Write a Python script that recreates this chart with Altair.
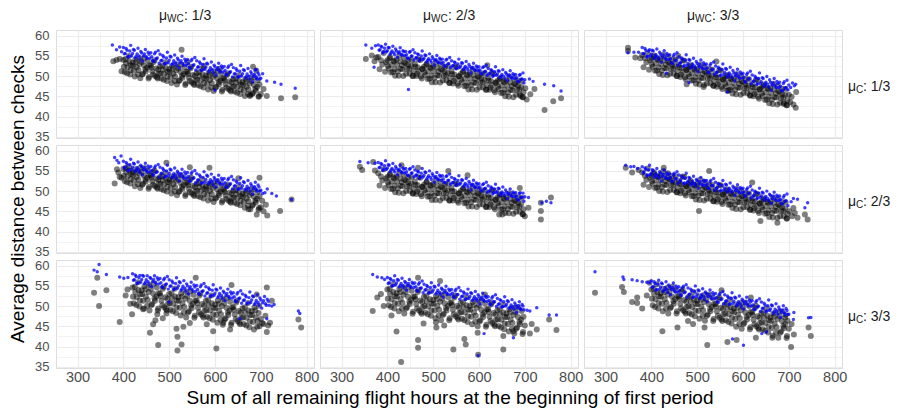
import altair as alt
import pandas as pd

LEVELS = ["1/3", "2/3", "3/3"]
X_TITLE = "Sum of all remaining flight hours at the beginning of first period"
Y_TITLE = "Average distance between checks"
X_TICKS = [300, 350, 400, 450, 500, 550, 600, 650, 700, 750, 800]
Y_TICKS = [35, 37.5, 40, 42.5, 45, 47.5, 50, 52.5, 55, 57.5, 60]

# ---------------- row mu_C = 1/3 ----------------
R1C1_BLUE = [(376,57.7),(385,56.5),(392,57.2),(396,56.0),
(400,57.1),(404,55.6),(408,56.4),(412,54.9),(416,57.6),(420,55.6),(424,56.4),(428,54.9),(432,56.9),(436,54.3),
(440,55.7),(444,55.0),(448,56.6),(452,54.4),(456,55.4),(460,55.8),(464,53.8),(468,55.5),(472,54.3),(476,56.3),
(480,55.4),(484,53.9),(488,54.7),(492,53.2),(496,55.9),(500,53.9),(504,54.7),(508,53.2),(512,55.2),(516,52.6),
(520,54.0),(524,53.3),(528,54.9),(532,52.7),(536,53.7),(540,54.1),(544,52.1),(548,53.8),(552,52.6),(556,54.6),
(560,53.8),(564,52.3),(568,53.1),(572,51.6),(576,54.3),(580,52.2),(584,53.0),(588,51.5),(592,53.5),(596,50.9),
(600,52.3),(604,51.6),(608,53.2),(612,51.0),(616,52.0),(620,52.4),(624,50.4),(628,52.1),(632,50.9),(636,52.9),
(640,52.1),(644,50.6),(648,51.4),(652,49.9),(656,52.6),(660,50.6),(664,51.4),(668,49.9),(672,51.9),(676,49.3),
(680,50.6),(684,49.9),(688,51.5),(692,49.3),(696,50.3),(690,51.6),(700,49.5),(704,50.6),(600,46.5),
(713,48.8),(730,48.5),(744,48.0),(775,47.0)]
R1C1_BLUE2 = [(402,55.5),(406,56.8),(410,54.7),(414,56.2),(418,55.0),(422,56.6),(426,54.5),(430,55.5),(434,55.0),(438,56.1),
(442,53.7),(446,55.5),(450,54.8),(454,55.9),(458,54.4),(462,54.8),(466,53.6),(470,55.9),(474,54.5),(478,53.2),
(482,53.8),(486,55.1),(490,53.0),(494,54.5),(498,53.3),(502,54.9),(506,52.8),(510,53.8),(514,53.3),(518,54.4),
(522,52.0),(526,53.8),(530,53.1),(534,54.2),(538,52.7),(542,53.1),(546,51.9),(550,54.2),(554,52.8),(558,51.5),
(562,52.2),(566,53.5),(570,51.4),(574,52.9),(578,51.7),(582,53.2),(586,51.1),(590,52.1),(594,51.6),(598,52.7),
(602,50.3),(606,52.1),(610,51.4),(614,52.5),(618,51.0),(622,51.4),(626,50.2),(630,52.5),(634,51.1),(638,49.8),
(642,50.5),(646,51.8),(650,49.7),(654,51.2),(658,50.0),(662,51.6),(666,49.5),(670,50.5),(674,50.0),(678,51.1),
(682,48.6),(686,50.4),(690,49.7),(694,50.8),(698,49.3)]
R1C1_BLACK = [(378,53.7),(385,54.0),(392,54.2),(396,51.2),
(400,54.0),(403,51.0),(406,53.2),(409,52.2),(412,55.0),(415,50.4),(417,52.7),
(420,53.3),(423,51.3),(426,54.1),(429,52.2),(432,50.4),(435,53.0),(437,49.5),
(440,53.5),(443,50.6),(446,54.5),(449,51.2),(452,52.1),(455,49.4),(457,52.7),
(460,52.6),(463,51.2),(466,53.5),(469,50.0),(472,51.9),(475,49.4),(477,50.6),
(480,52.4),(483,49.4),(486,51.6),(489,50.6),(492,53.4),(495,48.8),(497,51.1),
(500,51.7),(503,49.7),(506,52.5),(509,50.6),(512,48.8),(515,51.4),(517,47.9),
(520,51.9),(523,49.0),(526,52.9),(529,49.6),(532,50.5),(535,47.8),(537,51.1),
(540,51.0),(543,49.6),(546,51.9),(549,48.4),(552,50.3),(555,47.8),(557,49.0),
(560,50.8),(563,47.8),(566,50.0),(569,49.0),(572,51.8),(575,47.2),(577,49.5),
(580,50.1),(583,48.1),(586,50.9),(589,49.0),(592,47.2),(595,49.8),(597,46.3),
(600,50.3),(603,47.4),(606,51.3),(609,48.0),(612,48.9),(615,46.2),(617,49.5),
(620,49.4),(623,48.0),(626,50.3),(629,46.8),(632,48.7),(635,46.2),(637,47.4),
(640,49.2),(643,46.2),(646,48.4),(649,47.4),(652,50.2),(655,45.6),(657,47.9),
(660,48.5),(663,46.5),(666,49.3),(669,47.4),(672,45.6),(675,48.2),(677,45.3),
(680,48.7),(683,45.8),(686,49.7),(689,46.4),(692,47.3),(695,44.9),(697,47.9),
(527,56.5),(540,53.5),(575,52.5),(610,51.8),(683,52.3),(690,51.4),(676,45.1),
(700,45.6),(706,46.8),(713,45.1),(744,44.5),(775,44.8)]
R1C1_BLACK2 = [(401,52.3),(405,54.2),(408,50.7),(413,53.6),(416,51.5),(421,52.6),(425,49.9),(428,53.5),(433,51.5),(436,54.4),
(441,50.4),(445,52.6),(448,51.7),(453,53.8),(456,49.8),(461,52.1),(465,50.4),(468,53.9),(473,49.7),(476,51.6),
(481,50.7),(485,52.6),(488,49.1),(493,52.0),(496,49.9),(501,51.0),(505,48.3),(508,51.9),(513,49.9),(516,52.8),
(521,48.8),(525,51.0),(528,50.1),(533,52.2),(536,48.2),(541,50.5),(545,48.8),(548,52.3),(553,48.1),(556,50.0),
(561,49.1),(565,51.0),(568,47.5),(573,50.4),(576,48.3),(581,49.4),(585,46.7),(588,50.3),(593,48.3),(596,51.2),
(601,47.2),(605,49.4),(608,48.5),(613,50.6),(616,46.6),(621,48.9),(625,47.2),(628,50.7),(633,46.5),(636,48.4),
(641,47.5),(645,49.4),(648,45.9),(653,48.8),(656,46.7),(661,47.8),(665,45.1),(668,48.7),(673,46.7),(676,49.6),
(681,45.6),(685,47.8),(688,46.9),(693,49.0),(696,45.0)]

R1C2_BLUE = [(353,57.7),(366,56.9),(371,52.2),(374,57.5),
(380,57.7),(384,56.5),(388,57.2),(392,56.0),(396,57.9),(400,56.3),(404,57.0),(408,55.8),(412,57.4),(416,55.3),
(420,56.2),(424,55.7),(428,57.0),(432,55.2),(436,56.0),(440,56.1),(444,54.5),(448,55.9),(452,54.9),(456,56.5),
(460,55.8),(464,54.6),(468,55.3),(472,54.1),(476,56.2),(480,54.4),(484,55.1),(488,53.9),(492,55.5),(496,53.4),
(500,54.3),(504,53.8),(508,55.1),(512,53.3),(516,54.1),(520,54.2),(524,52.6),(528,54.0),(532,53.0),(536,54.6),
(540,53.8),(544,52.6),(548,53.3),(552,52.1),(556,54.2),(560,52.5),(564,53.2),(568,52.0),(572,53.6),(576,51.5),
(580,52.4),(584,51.9),(588,53.2),(592,51.4),(596,52.2),(600,52.3),(604,50.7),(608,52.1),(612,51.1),(616,52.7),
(620,51.9),(624,50.7),(628,51.4),(632,50.2),(636,52.3),(640,50.5),(644,51.2),(648,50.0),(652,51.6),(656,49.5),
(660,50.5),(664,50.0),(668,51.3),(672,49.5),(676,50.3),(680,50.4),(684,48.8),(688,50.2),(692,49.2),(696,50.8),
(446,46.7),(700,49.1),(710,49.3),(718,48.7),(743,48.0),(763,47.6),(779,46.3)]
R1C2_BLUE2 = [(382,56.4),(386,57.4),(390,55.7),(394,56.9),(398,56.0),(402,57.1),(406,55.4),(410,56.2),(414,55.8),(418,56.7),
(422,54.6),(426,56.0),(430,55.4),(434,56.3),(438,55.1),(442,55.3),(446,54.3),(450,56.1),(454,55.0),(458,54.0),
(462,54.5),(466,55.5),(470,53.8),(474,55.0),(478,54.1),(482,55.2),(486,53.5),(490,54.3),(494,53.9),(498,54.8),
(502,52.7),(506,54.1),(510,53.5),(514,54.4),(518,53.2),(522,53.4),(526,52.4),(530,54.2),(534,53.1),(538,52.1),
(542,52.5),(546,53.5),(550,51.8),(554,53.0),(558,52.1),(562,53.3),(566,51.6),(570,52.4),(574,52.0),(578,52.9),
(582,50.8),(586,52.2),(590,51.6),(594,52.5),(598,51.3),(602,51.5),(606,50.5),(610,52.3),(614,51.2),(618,50.2),
(622,50.6),(626,51.6),(630,49.9),(634,51.1),(638,50.2),(642,51.3),(646,49.6),(650,50.4),(654,50.0),(658,50.9),
(662,48.9),(666,50.3),(670,49.7),(674,50.6),(678,49.4),(682,49.6),(686,48.6),(690,50.4),(694,49.3),(698,48.3)]
R1C2_BLACK = [(353,54.2),(366,55.1),(372,53.7),(376,54.6),
(380,54.7),(383,51.7),(386,53.9),(389,52.9),(392,55.7),(395,51.1),(397,53.4),
(400,53.9),(403,51.9),(406,54.7),(409,52.8),(412,51.0),(415,53.6),(417,50.1),
(420,54.1),(423,51.2),(426,55.1),(429,51.8),(432,52.7),(435,50.0),(437,53.3),
(440,53.2),(443,51.8),(446,54.1),(449,50.6),(452,52.5),(455,50.0),(457,51.2),
(460,53.0),(463,50.0),(466,52.2),(469,51.2),(472,54.0),(475,49.4),(477,51.7),
(480,52.3),(483,50.3),(486,53.1),(489,51.2),(492,49.4),(495,52.0),(497,48.5),
(500,52.5),(503,49.6),(506,53.5),(509,50.2),(512,51.1),(515,48.4),(517,51.7),
(520,51.5),(523,50.1),(526,52.4),(529,48.9),(532,50.8),(535,48.3),(537,49.5),
(540,51.2),(543,48.2),(546,50.4),(549,49.4),(552,52.2),(555,47.6),(557,49.9),
(560,50.5),(563,48.5),(566,51.3),(569,49.4),(572,47.6),(575,50.2),(577,46.7),
(580,50.7),(583,47.8),(586,51.7),(589,48.4),(592,49.3),(595,46.6),(597,49.9),
(600,49.8),(603,48.4),(606,50.7),(609,47.2),(612,49.1),(615,46.6),(617,47.8),
(620,49.6),(623,46.6),(626,48.8),(629,47.8),(632,50.6),(635,46.0),(637,48.3),
(640,48.8),(643,46.8),(646,49.6),(649,47.7),(652,45.9),(655,48.5),(657,45.0),
(660,48.9),(663,46.0),(666,49.9),(669,46.6),(672,47.5),(675,44.8),(677,48.1),
(680,48.0),(683,46.6),(686,48.9),(689,45.4),(692,47.3),(695,44.8),(697,46.0),
(618,52.7),(691,45.1),(701,47.0),(704,44.2),(712,45.5),(721,46.8),(743,41.6),(762,43.8),(779,44.5)]
R1C2_BLACK2 = [(401,52.5),(405,54.4),(408,50.9),(413,53.8),(416,51.7),(421,52.8),(425,50.1),(428,53.7),(433,51.7),(436,54.6),
(441,50.6),(445,52.8),(448,51.9),(453,54.0),(456,50.0),(461,52.3),(465,50.6),(468,54.1),(473,49.9),(476,51.8),
(481,50.9),(485,52.8),(488,49.3),(493,52.2),(496,50.1),(501,51.2),(505,48.5),(508,52.1),(513,50.1),(516,53.0),
(521,48.9),(525,51.1),(528,50.2),(533,52.3),(536,48.3),(541,50.5),(545,48.8),(548,52.3),(553,48.1),(556,50.0),
(561,49.1),(565,51.0),(568,47.5),(573,50.4),(576,48.3),(581,49.4),(585,46.7),(588,50.3),(593,48.3),(596,51.2),
(601,47.2),(605,49.4),(608,48.5),(613,50.6),(616,46.6),(621,48.9),(625,47.2),(628,50.7),(633,46.5),(636,48.4),
(641,47.4),(645,49.3),(648,45.8),(653,48.7),(656,46.6),(661,47.6),(665,44.9),(668,48.5),(673,46.5),(676,49.4),
(681,45.4),(685,47.6),(688,46.7),(693,48.8),(696,44.8)]

R1C3_BLUE = [(349,55.8),(362,55.9),(372,55.9),
(380,57.1),(384,55.6),(388,56.4),(392,54.9),(396,56.5),(400,55.4),(404,56.2),(408,54.7),(412,56.7),(416,54.1),
(420,55.4),(424,54.7),(428,56.3),(432,54.1),(436,55.1),(440,55.3),(444,53.3),(448,55.0),(452,53.8),(456,55.8),
(460,54.8),(464,53.3),(468,54.1),(472,52.6),(476,55.3),(480,53.1),(484,53.9),(488,52.4),(492,54.4),(496,51.8),
(500,53.1),(504,52.4),(508,54.0),(512,51.8),(516,52.8),(520,53.0),(524,51.0),(528,52.7),(532,51.5),(536,53.5),
(540,52.5),(544,51.0),(548,51.8),(552,50.3),(556,53.0),(560,50.9),(564,51.7),(568,50.2),(572,52.2),(576,49.6),
(580,50.8),(584,50.1),(588,51.7),(592,49.5),(596,50.5),(600,50.7),(604,48.7),(608,50.4),(612,49.2),(616,51.2),
(620,50.3),(624,48.8),(628,49.6),(632,48.1),(636,50.8),(640,48.6),(644,49.4),(648,47.9),(652,49.9),(656,47.3),
(660,48.5),(664,47.8),(668,49.4),(672,47.2),(676,48.2),(680,48.5),(684,46.5),(688,48.2),(692,47.0),(696,49.0),
(700,47.8),(704,47.2),(708,48.3),(712,47.6),(715,48.0),(433,50.7),(482,48.4),(566,46.1)]
R1C3_BLUE2 = [(382,55.5),(386,56.8),(390,54.7),(394,56.2),(398,55.0),(402,56.4),(406,54.3),(410,55.3),(414,54.8),(418,55.9),
(422,53.4),(426,55.2),(430,54.5),(434,55.6),(438,54.1),(442,54.3),(446,53.1),(450,55.4),(454,54.0),(458,52.7),
(462,53.2),(466,54.5),(470,52.4),(474,53.9),(478,52.7),(482,54.1),(486,52.0),(490,53.0),(494,52.5),(498,53.6),
(502,51.1),(506,52.9),(510,52.2),(514,53.3),(518,51.8),(522,52.0),(526,50.8),(530,53.1),(534,51.7),(538,50.4),
(542,50.9),(546,52.2),(550,50.1),(554,51.6),(558,50.4),(562,51.9),(566,49.8),(570,50.8),(574,50.3),(578,51.4),
(582,48.8),(586,50.6),(590,49.9),(594,51.0),(598,49.5),(602,49.7),(606,48.5),(610,50.8),(614,49.4),(618,48.1),
(622,48.7),(626,50.0),(630,47.9),(634,49.4),(638,48.2),(642,49.6),(646,47.5),(650,48.5),(654,48.0),(658,49.1),
(662,46.5),(666,48.3),(670,47.6),(674,48.7),(678,47.2),(682,47.5),(686,46.3),(690,48.6),(694,47.2),(698,46.6)]
R1C3_BLACK = [(349,57.0),(349,56.2),(365,54.6),(376,54.4),
(380,55.2),(383,52.2),(386,54.4),(389,53.4),(392,55.6),(395,51.6),(397,53.9),
(400,54.3),(403,52.3),(406,55.1),(409,53.2),(412,51.4),(415,54.0),(417,50.5),
(420,54.3),(423,51.4),(426,55.3),(429,52.0),(432,52.9),(435,50.2),(437,53.5),
(440,53.2),(443,51.8),(446,54.1),(449,50.6),(452,52.5),(455,50.0),(457,51.2),
(460,52.8),(463,49.8),(466,52.0),(469,51.0),(472,53.8),(475,49.2),(477,51.5),
(480,51.9),(483,49.9),(486,52.7),(489,50.8),(492,49.0),(495,51.6),(497,48.1),
(500,51.9),(503,49.0),(506,52.9),(509,49.6),(512,50.5),(515,47.8),(517,51.1),
(520,50.8),(523,49.4),(526,51.7),(529,48.2),(532,50.1),(535,47.6),(537,48.8),
(540,50.4),(543,47.4),(546,49.6),(549,48.6),(552,51.4),(555,46.8),(557,49.1),
(560,49.5),(563,47.5),(566,50.3),(569,48.4),(572,46.6),(575,49.2),(577,45.7),
(580,49.5),(583,46.6),(586,50.5),(589,47.2),(592,48.1),(595,45.4),(597,48.7),
(600,48.4),(603,47.0),(606,49.3),(609,45.8),(612,47.7),(615,45.2),(617,46.4),
(620,48.0),(623,45.0),(626,47.2),(629,46.2),(632,49.0),(635,44.4),(637,46.7),
(640,47.1),(643,45.1),(646,47.9),(649,46.0),(652,44.2),(655,46.8),(657,43.3),
(660,47.1),(663,44.2),(666,48.1),(669,44.8),(672,45.7),(675,43.0),(677,46.3),
(680,46.0),(683,44.6),(686,46.9),(689,43.4),(692,45.3),(695,42.8),(697,44.0),
(700,45.4),(703,43.6),(706,44.9),(710,43.0),(715,42.2),(716,46.1),
(459,55.0),(542,53.6),(477,48.0),(514,47.3),(566,46.3),(689,43.1)]
R1C3_BLACK2 = [(401,52.9),(405,54.8),(408,51.3),(413,54.2),(416,52.1),(421,53.0),(425,50.3),(428,53.9),(433,51.9),(436,54.8),
(441,50.6),(445,52.8),(448,51.9),(453,54.0),(456,50.0),(461,52.1),(465,50.4),(468,53.9),(473,49.7),(476,51.6),
(481,50.5),(485,52.4),(488,48.9),(493,51.8),(496,49.7),(501,50.6),(505,47.9),(508,51.5),(513,49.5),(516,52.4),
(521,48.2),(525,50.4),(528,49.5),(533,51.6),(536,47.6),(541,49.7),(545,48.0),(548,51.5),(553,47.3),(556,49.2),
(561,48.1),(565,50.0),(568,46.5),(573,49.4),(576,47.3),(581,48.2),(585,45.5),(588,49.1),(593,47.1),(596,50.0),
(601,45.8),(605,48.0),(608,47.1),(613,49.2),(616,45.2),(621,47.3),(625,45.6),(628,49.1),(633,44.9),(636,46.8),
(641,45.7),(645,47.6),(648,44.1),(653,47.0),(656,44.9),(661,45.8),(665,43.1),(668,46.7),(673,44.7),(676,47.6),
(681,43.4),(685,45.6),(688,44.7),(693,46.8),(696,42.8)]

# ---------------- row mu_C = 2/3 ----------------
R2C1_BLUE = [(381,58.3),(386,57.6),(390,57.0),(395,58.7),
(400,57.4),(404,55.9),(408,56.7),(412,55.2),(416,57.9),(420,55.9),(424,56.7),(428,55.2),(432,57.2),(436,54.6),
(440,56.0),(444,55.3),(448,56.9),(452,54.7),(456,55.7),(460,56.1),(464,54.1),(468,55.8),(472,54.6),(476,56.6),
(480,55.9),(484,54.4),(488,55.2),(492,53.7),(496,56.4),(500,54.4),(504,55.2),(508,53.7),(512,55.7),(516,53.1),
(520,54.5),(524,53.8),(528,55.4),(532,53.2),(536,54.2),(540,54.6),(544,52.6),(548,54.3),(552,53.1),(556,55.1),
(560,54.3),(564,52.8),(568,53.6),(572,52.1),(576,54.8),(580,52.9),(584,53.7),(588,52.2),(592,54.2),(596,51.6),
(600,53.0),(604,52.3),(608,53.9),(612,51.7),(616,52.7),(620,53.1),(624,51.1),(628,52.8),(632,51.6),(636,53.6),
(640,52.8),(644,51.3),(648,52.1),(652,50.6),(656,53.3),(660,51.3),(664,52.1),(668,50.6),(672,52.6),(676,50.0),
(680,51.3),(684,50.6),(688,52.2),(692,50.0),(696,51.0),(700,50.2),(704,49.4),(709,49.6),(714,50.5),
(724,49.4),(734,48.8),(767,47.9)]
R2C1_BLUE2 = [(402,55.8),(406,57.1),(410,55.0),(414,56.5),(418,55.3),(422,56.9),(426,54.8),(430,55.8),(434,55.3),(438,56.4),
(442,54.0),(446,55.8),(450,55.1),(454,56.2),(458,54.7),(462,55.1),(466,53.9),(470,56.2),(474,54.8),(478,53.5),
(482,54.3),(486,55.6),(490,53.5),(494,55.0),(498,53.8),(502,55.4),(506,53.3),(510,54.3),(514,53.8),(518,54.9),
(522,52.5),(526,54.3),(530,53.6),(534,54.7),(538,53.2),(542,53.6),(546,52.4),(550,54.7),(554,53.3),(558,52.0),
(562,52.7),(566,54.0),(570,51.9),(574,53.4),(578,52.2),(582,53.9),(586,51.8),(590,52.8),(594,52.3),(598,53.4),
(602,51.0),(606,52.8),(610,52.1),(614,53.2),(618,51.7),(622,52.1),(626,50.9),(630,53.2),(634,51.8),(638,50.5),
(642,51.2),(646,52.5),(650,50.4),(654,51.9),(658,50.7),(662,52.3),(666,50.2),(670,51.2),(674,50.7),(678,51.8),
(682,49.3),(686,51.1),(690,50.4),(694,51.5),(698,50.0)]
R2C1_BLACK = [(381,51.9),(386,55.4),(389,54.6),(392,53.5),(396,53.3),
(400,55.5),(403,52.5),(406,54.7),(409,53.7),(412,56.0),(415,51.9),(417,54.2),
(420,54.6),(423,52.6),(426,55.4),(429,53.5),(432,51.7),(435,54.3),(437,50.8),
(440,54.7),(443,51.8),(446,55.7),(449,52.4),(452,53.3),(455,50.6),(457,53.9),
(460,53.8),(463,52.4),(466,54.7),(469,51.2),(472,53.1),(475,50.6),(477,51.8),
(480,53.5),(483,50.5),(486,52.7),(489,51.7),(492,54.5),(495,49.9),(497,52.2),
(500,52.8),(503,50.8),(506,53.6),(509,51.7),(512,49.9),(515,52.5),(517,49.0),
(520,52.9),(523,50.0),(526,53.9),(529,50.6),(532,51.5),(535,48.8),(537,52.1),
(540,52.0),(543,50.6),(546,52.9),(549,49.4),(552,51.3),(555,48.8),(557,50.0),
(560,51.8),(563,48.8),(566,51.0),(569,50.0),(572,52.8),(575,48.2),(577,50.5),
(580,51.1),(583,49.1),(586,51.9),(589,50.0),(592,48.2),(595,50.8),(597,47.3),
(600,51.3),(603,48.4),(606,52.3),(609,49.0),(612,49.9),(615,47.2),(617,50.5),
(620,50.3),(623,48.9),(626,51.2),(629,47.7),(632,49.6),(635,47.1),(637,48.3),
(640,50.1),(643,47.1),(646,49.3),(649,48.3),(652,51.1),(655,46.5),(657,48.8),
(660,49.3),(663,47.3),(666,50.1),(669,48.2),(672,46.4),(675,49.0),(677,45.5),
(680,49.5),(683,46.6),(686,50.5),(689,47.2),(692,48.1),(695,45.4),(697,48.7),
(700,46.0),(703,47.6),(706,45.0),(711,46.6),
(494,57.0),(545,55.9),(588,55.8),(651,53.2),(697,53.3),(673,45.5),(691,44.2),(714,44.0),(742,45.1),(767,47.9)]
R2C1_BLACK2 = [(401,53.8),(405,55.7),(408,52.2),(413,55.1),(416,53.0),(421,53.9),(425,51.2),(428,54.8),(433,52.8),(436,55.7),
(441,51.6),(445,53.8),(448,52.9),(453,55.0),(456,51.0),(461,53.3),(465,51.6),(468,55.1),(473,50.9),(476,52.8),
(481,51.8),(485,53.7),(488,50.2),(493,53.1),(496,51.0),(501,52.1),(505,49.4),(508,53.0),(513,51.0),(516,53.9),
(521,49.8),(525,52.0),(528,51.1),(533,53.2),(536,49.2),(541,51.5),(545,49.8),(548,53.3),(553,49.1),(556,51.0),
(561,50.1),(565,52.0),(568,48.5),(573,51.4),(576,49.3),(581,50.4),(585,47.7),(588,51.3),(593,49.3),(596,52.2),
(601,48.2),(605,50.4),(608,49.5),(613,51.6),(616,47.6),(621,49.8),(625,48.1),(628,51.6),(633,47.4),(636,49.3),
(641,48.4),(645,50.3),(648,46.8),(653,49.7),(656,47.6),(661,48.6),(665,45.9),(668,49.5),(673,47.5),(676,50.4),
(681,46.4),(685,48.6),(688,47.7),(693,49.8),(696,45.8)]

R2C2_BLUE = [(340,57.3),(358,57.0),(373,56.9),
(380,57.1),(384,55.9),(388,56.6),(392,55.4),(396,57.5),(400,55.7),(404,56.4),(408,55.2),(412,56.8),(416,54.7),
(420,55.6),(424,55.1),(428,56.4),(432,54.6),(436,55.4),(440,55.6),(444,54.0),(448,55.4),(452,54.4),(456,56.0),
(460,55.2),(464,54.0),(468,54.7),(472,53.5),(476,55.6),(480,53.9),(484,54.6),(488,53.4),(492,55.0),(496,52.9),
(500,53.8),(504,53.3),(508,54.6),(512,52.8),(516,53.6),(520,53.8),(524,52.2),(528,53.6),(532,52.6),(536,54.2),
(540,53.4),(544,52.2),(548,52.9),(552,51.7),(556,53.8),(560,52.0),(564,52.7),(568,51.5),(572,53.1),(576,51.0),
(580,51.9),(584,51.4),(588,52.7),(592,50.9),(596,51.7),(600,51.8),(604,50.2),(608,51.6),(612,50.6),(616,52.2),
(620,51.3),(624,50.1),(628,50.8),(632,49.6),(636,51.7),(640,49.9),(644,50.6),(648,49.4),(652,51.0),(656,48.9),
(660,49.7),(664,49.2),(668,50.5),(672,48.7),(676,49.5),(680,49.6),(684,48.0),(688,49.4),(692,48.4),(696,49.5),
(700,48.6),(708,48.4),(737,47.1),(747,47.5),(757,47.1)]
R2C2_BLUE2 = [(382,55.8),(386,56.8),(390,55.1),(394,56.3),(398,55.4),(402,56.5),(406,54.8),(410,55.6),(414,55.2),(418,56.1),
(422,54.0),(426,55.4),(430,54.8),(434,55.7),(438,54.5),(442,54.8),(446,53.8),(450,55.6),(454,54.5),(458,53.5),
(462,53.9),(466,54.9),(470,53.2),(474,54.4),(478,53.5),(482,54.7),(486,53.0),(490,53.8),(494,53.4),(498,54.3),
(502,52.2),(506,53.6),(510,53.0),(514,53.9),(518,52.7),(522,53.0),(526,52.0),(530,53.8),(534,52.7),(538,51.7),
(542,52.1),(546,53.1),(550,51.4),(554,52.6),(558,51.7),(562,52.8),(566,51.1),(570,51.9),(574,51.5),(578,52.4),
(582,50.3),(586,51.7),(590,51.1),(594,52.0),(598,50.8),(602,51.0),(606,50.0),(610,51.8),(614,50.7),(618,49.7),
(622,50.0),(626,51.0),(630,49.3),(634,50.5),(638,49.6),(642,50.7),(646,49.0),(650,49.8),(654,49.4),(658,50.3),
(662,48.1),(666,49.5),(670,48.9),(674,49.8),(678,48.6),(682,48.8),(686,47.8),(690,49.6),(694,48.5),(698,47.5)]
R2C2_BLACK = [(340,56.0),(345,55.2),(369,57.2),(373,55.1),
(380,54.4),(383,51.4),(386,53.6),(389,52.6),(392,55.4),(395,50.8),(397,53.1),
(400,53.5),(403,51.5),(406,54.3),(409,52.4),(412,50.6),(415,53.2),(417,49.7),
(420,53.6),(423,50.7),(426,54.6),(429,51.3),(432,52.2),(435,49.5),(437,52.8),
(440,52.6),(443,51.2),(446,53.5),(449,50.0),(452,51.9),(455,49.4),(457,50.6),
(460,52.3),(463,49.3),(466,51.5),(469,50.5),(472,53.3),(475,48.7),(477,51.0),
(480,51.6),(483,49.6),(486,52.4),(489,50.5),(492,48.7),(495,51.3),(497,47.8),
(500,51.8),(503,48.9),(506,52.8),(509,49.5),(512,50.4),(515,47.7),(517,51.0),
(520,50.9),(523,49.5),(526,51.8),(529,48.3),(532,50.2),(535,47.7),(537,48.9),
(540,50.7),(543,47.7),(546,49.9),(549,48.9),(552,51.7),(555,47.1),(557,49.4),
(560,50.0),(563,48.0),(566,50.8),(569,48.9),(572,47.1),(575,49.7),(577,46.2),
(580,50.2),(583,47.3),(586,51.2),(589,47.9),(592,48.8),(595,46.1),(597,49.4),
(600,49.3),(603,47.9),(606,50.2),(609,46.7),(612,48.6),(615,46.1),(617,47.3),
(620,49.1),(623,46.1),(626,48.3),(629,47.3),(632,50.1),(635,45.5),(637,47.8),
(640,48.4),(643,46.4),(646,49.2),(649,47.3),(652,45.5),(655,48.1),(657,44.6),
(660,48.5),(663,45.6),(666,49.5),(669,46.2),(672,47.1),(675,44.4),(677,47.7),
(680,47.5),(683,46.1),(686,48.4),(689,44.9),(692,46.8),(695,44.3),(697,45.5),
(431,56.4),(467,55.8),(533,55.0),(575,53.9),(689,50.8),(644,44.2),(651,44.2),
(700,43.8),(708,45.9),(735,43.0),(735,45.1),(735,47.1),(757,48.4)]
R2C2_BLACK2 = [(401,52.1),(405,54.0),(408,50.5),(413,53.4),(416,51.3),(421,52.3),(425,49.6),(428,53.2),(433,51.2),(436,54.1),
(441,50.0),(445,52.2),(448,51.3),(453,53.4),(456,49.4),(461,51.6),(465,49.9),(468,53.4),(473,49.2),(476,51.1),
(481,50.2),(485,52.1),(488,48.6),(493,51.5),(496,49.4),(501,50.5),(505,47.8),(508,51.4),(513,49.4),(516,52.3),
(521,48.3),(525,50.5),(528,49.6),(533,51.7),(536,47.7),(541,50.0),(545,48.3),(548,51.8),(553,47.6),(556,49.5),
(561,48.6),(565,50.5),(568,47.0),(573,49.9),(576,47.8),(581,48.9),(585,46.2),(588,49.8),(593,47.8),(596,50.7),
(601,46.7),(605,48.9),(608,48.0),(613,50.1),(616,46.1),(621,48.4),(625,46.7),(628,50.2),(633,46.0),(636,47.9),
(641,47.0),(645,48.9),(648,45.4),(653,48.3),(656,46.2),(661,47.2),(665,44.5),(668,48.1),(673,46.1),(676,49.0),
(681,44.9),(685,47.1),(688,46.2),(693,48.3),(696,44.3)]

R2C3_BLUE = [(344,56.4),(355,56.0),(362,56.1),(370,55.6),
(380,56.0),(384,54.7),(388,55.4),(392,54.0),(396,56.4),(400,54.4),(404,55.1),(408,53.8),(412,55.6),(416,53.3),
(420,54.4),(424,53.7),(428,55.2),(432,53.2),(436,54.1),(440,54.3),(444,52.5),(448,54.0),(452,53.0),(456,54.8),
(460,54.0),(464,52.7),(468,53.4),(472,52.0),(476,54.4),(480,52.5),(484,53.2),(488,51.9),(492,53.7),(496,51.4),
(500,52.6),(504,51.9),(508,53.4),(512,51.4),(516,52.3),(520,52.6),(524,50.8),(528,52.3),(532,51.3),(536,53.1),
(540,52.2),(544,50.9),(548,51.6),(552,50.2),(556,52.6),(560,50.8),(564,51.5),(568,50.2),(572,52.0),(576,49.7),
(580,50.8),(584,50.1),(588,51.6),(592,49.6),(596,50.5),(600,50.7),(604,48.9),(608,50.4),(612,49.4),(616,51.2),
(620,50.3),(624,49.0),(628,49.7),(632,48.3),(636,50.7),(640,48.8),(644,49.5),(648,48.2),(652,50.0),(656,47.7),
(660,48.9),(664,48.2),(668,49.7),(672,47.7),(676,48.6),(680,48.8),(684,47.0),(688,48.5),(692,47.5),(696,49.3),
(705,47.4),(710,48.2),(719,48.0),(735,45.9),(741,47.1)]
R2C3_BLUE2 = [(382,54.5),(386,55.7),(390,53.8),(394,55.2),(398,54.1),(402,55.3),(406,53.4),(410,54.3),(414,53.8),(418,54.8),
(422,52.5),(426,54.2),(430,53.5),(434,54.5),(438,53.2),(442,53.4),(446,52.3),(450,54.4),(454,53.1),(458,51.9),
(462,52.5),(466,53.7),(470,51.8),(474,53.2),(478,52.1),(482,53.4),(486,51.5),(490,52.4),(494,51.9),(498,52.9),
(502,50.7),(506,52.4),(510,51.7),(514,52.7),(518,51.4),(522,51.7),(526,50.6),(530,52.7),(534,51.4),(538,50.2),
(542,50.7),(546,51.9),(550,50.0),(554,51.4),(558,50.3),(562,51.7),(566,49.8),(570,50.7),(574,50.2),(578,51.2),
(582,48.9),(586,50.6),(590,49.9),(594,50.9),(598,49.6),(602,49.8),(606,48.7),(610,50.8),(614,49.5),(618,48.3),
(622,48.8),(626,50.0),(630,48.1),(634,49.5),(638,48.4),(642,49.7),(646,47.8),(650,48.7),(654,48.2),(658,49.2),
(662,47.0),(666,48.7),(670,48.0),(674,49.0),(678,47.7),(682,47.9),(686,46.8),(690,48.9),(694,47.6),(698,46.4)]
R2C3_BLACK = [(344,55.8),(358,54.6),(372,55.2),
(380,54.6),(383,51.6),(386,53.8),(389,52.8),(392,55.6),(395,51.0),(397,53.3),
(400,53.8),(403,51.8),(406,54.6),(409,52.7),(412,50.9),(415,53.5),(417,50.0),
(420,53.9),(423,51.0),(426,54.9),(429,51.6),(432,52.5),(435,49.8),(437,53.1),
(440,52.9),(443,51.5),(446,53.8),(449,50.3),(452,52.2),(455,49.7),(457,50.9),
(460,52.5),(463,49.5),(466,51.7),(469,50.7),(472,53.5),(475,48.9),(477,51.2),
(480,51.7),(483,49.7),(486,52.5),(489,50.6),(492,48.8),(495,51.4),(497,47.9),
(500,51.8),(503,48.9),(506,52.8),(509,49.5),(512,50.4),(515,47.7),(517,51.0),
(520,50.7),(523,49.3),(526,51.6),(529,48.1),(532,50.0),(535,47.5),(537,48.7),
(540,50.4),(543,47.4),(546,49.6),(549,48.6),(552,51.4),(555,46.8),(557,49.1),
(560,49.6),(563,47.6),(566,50.4),(569,48.5),(572,46.7),(575,49.3),(577,45.8),
(580,49.6),(583,46.7),(586,50.6),(589,47.3),(592,48.2),(595,45.5),(597,48.8),
(600,48.6),(603,47.2),(606,49.5),(609,46.0),(612,47.9),(615,45.4),(617,46.6),
(620,48.2),(623,45.2),(626,47.4),(629,46.4),(632,49.2),(635,44.6),(637,46.9),
(640,47.4),(643,45.4),(646,48.2),(649,46.3),(652,44.5),(655,47.1),(657,43.6),
(660,47.5),(663,44.6),(666,48.5),(669,45.2),(672,46.1),(675,43.4),(677,46.7),
(680,46.4),(683,45.0),(686,47.3),(689,43.8),(692,45.7),(695,43.2),(697,44.4),
(427,55.8),(526,55.0),(504,45.1),(620,52.1),(638,42.6),(675,42.2),(701,45.0),(707,43.8),
(710,45.8),(713,44.6),(719,43.4),(735,44.2),(741,43.0)]
R2C3_BLACK2 = [(401,52.4),(405,54.3),(408,50.8),(413,53.7),(416,51.6),(421,52.6),(425,49.9),(428,53.5),(433,51.5),(436,54.4),
(441,50.3),(445,52.5),(448,51.6),(453,53.7),(456,49.7),(461,51.8),(465,50.1),(468,53.6),(473,49.4),(476,51.3),
(481,50.3),(485,52.2),(488,48.7),(493,51.6),(496,49.5),(501,50.5),(505,47.8),(508,51.4),(513,49.4),(516,52.3),
(521,48.1),(525,50.3),(528,49.4),(533,51.5),(536,47.5),(541,49.7),(545,48.0),(548,51.5),(553,47.3),(556,49.2),
(561,48.2),(565,50.1),(568,46.6),(573,49.5),(576,47.4),(581,48.3),(585,45.6),(588,49.2),(593,47.2),(596,50.1),
(601,46.0),(605,48.2),(608,47.3),(613,49.4),(616,45.4),(621,47.5),(625,45.8),(628,49.3),(633,45.1),(636,47.0),
(641,46.0),(645,47.9),(648,44.4),(653,47.3),(656,45.2),(661,46.2),(665,43.5),(668,47.1),(673,45.1),(676,48.0),
(681,43.8),(685,46.0),(688,45.1),(693,47.2),(696,43.2)]

# ---------------- row mu_C = 3/3 ----------------
R3C1_BLUE = [(336,58.9),(343,58.5),(347,60.3),(363,57.8),(392,57.2),(401,56.9),(410,57.1),
(420,58.0),(424,56.5),(428,57.3),(432,55.8),(436,57.6),(440,56.6),(444,57.4),(448,55.9),(452,57.5),(456,55.3),
(460,56.8),(464,56.1),(468,57.5),(472,55.5),(476,56.5),(480,56.8),(484,54.8),(488,56.5),(492,55.3),(496,57.3),
(500,56.5),(504,55.0),(508,55.8),(512,54.3),(516,57.0),(520,55.0),(524,55.8),(528,54.3),(532,56.3),(536,53.7),
(540,55.0),(544,54.3),(548,55.9),(552,53.7),(556,54.7),(560,55.1),(564,53.1),(568,54.8),(572,53.6),(576,55.6),
(580,54.8),(584,53.3),(588,54.1),(592,52.6),(596,55.3),(600,53.2),(604,54.0),(608,52.5),(612,54.5),(616,51.9),
(620,53.3),(624,52.6),(628,54.2),(632,52.0),(636,53.0),(640,53.3),(644,51.3),(648,53.0),(652,51.8),(656,53.8),
(660,53.0),(664,51.5),(668,52.3),(672,50.8),(676,53.5),(680,51.5),(684,52.3),(688,50.8),(692,52.8),(696,50.2),
(700,51.5),(704,50.8),(708,52.4),(712,50.2),(716,51.2),(500,51.0),(654,46.9),(713,46.9),
(724,50.0),(729,50.4),(782,48.8),(785,48.2)]
R3C1_BLUE2 = [(422,56.4),(426,57.7),(430,55.6),(434,57.1),(438,55.9),(442,57.6),(446,55.5),(450,56.5),(454,56.0),(458,57.1),
(462,54.8),(466,56.6),(470,55.9),(474,57.0),(478,55.5),(482,55.8),(486,54.6),(490,56.9),(494,55.5),(498,54.2),
(502,54.9),(506,56.2),(510,54.1),(514,55.6),(518,54.4),(522,56.0),(526,53.9),(530,54.9),(534,54.4),(538,55.5),
(542,53.0),(546,54.8),(550,54.1),(554,55.2),(558,53.7),(562,54.1),(566,52.9),(570,55.2),(574,53.8),(578,52.5),
(582,53.2),(586,54.5),(590,52.4),(594,53.9),(598,52.7),(602,54.2),(606,52.1),(610,53.1),(614,52.6),(618,53.7),
(622,51.3),(626,53.1),(630,52.4),(634,53.5),(638,52.0),(642,52.3),(646,51.1),(650,53.4),(654,52.0),(658,50.7),
(662,51.4),(666,52.7),(670,50.6),(674,52.1),(678,50.9),(682,52.5),(686,50.4),(690,51.4),(694,50.9),(698,52.0),
(702,49.5),(706,51.3),(710,50.6),(714,51.7),(718,50.2)]
R3C1_BLACK = [(336,53.3),(343,57.0),(347,50.0),(363,53.9),(392,46.1),(405,52.6),(409,54.1),(415,50.6),(419,48.0),
(420,54.6),(423,50.7),(426,53.5),(429,52.2),(432,55.9),(435,49.9),(437,52.9),
(440,53.9),(443,51.3),(446,54.9),(449,52.4),(452,50.1),(455,53.5),(457,48.9),
(460,54.3),(463,50.5),(466,55.5),(469,51.3),(472,52.4),(475,48.9),(477,53.2),
(480,53.1),(483,51.3),(486,54.3),(489,49.7),(492,52.2),(495,48.9),(497,50.5),
(500,53.0),(503,49.1),(506,51.9),(509,50.6),(512,54.3),(515,48.3),(517,51.3),
(520,52.2),(523,49.6),(526,53.2),(529,50.7),(532,48.4),(535,51.8),(537,47.2),
(540,52.5),(543,48.7),(546,53.7),(549,49.5),(552,50.6),(555,47.1),(557,51.4),
(560,51.4),(563,49.6),(566,52.6),(569,48.0),(572,50.5),(575,47.2),(577,48.8),
(580,51.3),(583,47.4),(586,50.2),(589,48.9),(592,52.6),(595,46.6),(597,49.6),
(600,50.4),(603,47.8),(606,51.4),(609,48.9),(612,46.6),(615,50.0),(617,45.4),
(620,50.8),(623,47.0),(626,52.0),(629,47.8),(632,48.9),(635,45.4),(637,49.7),
(640,49.7),(643,47.9),(646,50.9),(649,46.3),(652,48.8),(655,45.5),(657,47.1),
(660,49.5),(663,45.6),(666,48.4),(669,47.1),(672,50.8),(675,44.8),(677,47.8),
(680,48.7),(683,46.1),(686,49.7),(689,47.2),(692,44.9),(695,48.3),(697,45.0),
(700,46.8),(703,45.8),(706,45.6),(710,47.6),(716,45.2),
(443,49.2),(458,43.4),(465,45.5),(470,46.5),(474,48.0),(476,40.4),(486,47.0),(494,48.2),(516,44.4),(518,42.4),
(518,39.0),(527,40.5),(531,44.9),(545,45.8),(558,57.0),(582,45.5),(596,43.8),(603,39.5),(618,45.9),(633,44.2),
(636,55.2),(691,52.9),(713,54.6),(713,43.6),(720,45.9),(724,51.3),(782,46.7),(788,44.7)]
R3C1_BLACK2 = [(421,52.3),(425,54.8),(428,50.3),(433,54.0),(436,51.3),(441,53.0),(445,49.4),(448,54.1),(453,51.5),(456,55.3),
(461,50.2),(465,53.1),(468,51.9),(473,54.6),(476,49.4),(481,52.5),(485,50.2),(488,54.8),(493,49.3),(496,51.8),
(501,50.7),(505,53.2),(508,48.7),(513,52.4),(516,49.7),(521,51.3),(525,47.7),(528,52.4),(533,49.8),(536,53.6),
(541,48.4),(545,51.3),(548,50.1),(553,52.8),(556,47.6),(561,50.8),(565,48.5),(568,53.1),(573,47.6),(576,50.1),
(581,49.0),(585,51.5),(588,47.0),(593,50.7),(596,48.0),(601,49.5),(605,45.9),(608,50.6),(613,48.0),(616,51.8),
(621,46.7),(625,49.6),(628,48.4),(633,51.1),(636,45.9),(641,49.1),(645,46.8),(648,51.4),(653,45.9),(656,48.4),
(661,47.2),(665,49.7),(668,45.2),(673,48.9),(676,46.2),(681,47.8),(685,44.2),(688,48.9),(693,46.3),(696,50.1)]

R3C2_BLUE = [(368,57.8),(378,57.2),(388,57.0),(394,56.6),
(400,57.1),(404,55.8),(408,56.5),(412,55.1),(416,57.5),(420,55.7),(424,56.4),(428,55.1),(432,56.9),(436,54.6),
(440,55.8),(444,55.1),(448,56.6),(452,54.6),(456,55.5),(460,55.7),(464,53.9),(468,55.4),(472,54.4),(476,56.2),
(480,55.4),(484,54.1),(488,54.8),(492,53.4),(496,55.8),(500,54.0),(504,54.7),(508,53.4),(512,55.2),(516,52.9),
(520,54.1),(524,53.4),(528,54.9),(532,52.9),(536,53.8),(540,54.1),(544,52.3),(548,53.8),(552,52.8),(556,54.6),
(560,53.8),(564,52.5),(568,53.2),(572,51.8),(576,54.2),(580,52.4),(584,53.1),(588,51.8),(592,53.6),(596,51.3),
(600,52.4),(604,51.7),(608,53.2),(612,51.2),(616,52.1),(620,52.3),(624,50.5),(628,52.0),(632,51.0),(636,52.8),
(640,51.9),(644,50.6),(648,51.3),(652,49.9),(656,52.3),(660,50.4),(664,51.1),(668,49.8),(672,51.6),(676,49.3),
(680,50.3),(684,49.6),(688,51.1),(692,49.1),(696,50.0),(705,49.0),(711,48.8),(726,49.6),(753,47.8),(769,47.8),
(598,37.8),(611,43.2),(675,42.2)]
R3C2_BLUE2 = [(402,55.6),(406,56.8),(410,54.9),(414,56.3),(418,55.2),(422,56.6),(426,54.7),(430,55.6),(434,55.1),(438,56.1),
(442,53.9),(446,55.6),(450,54.9),(454,55.9),(458,54.6),(462,54.8),(466,53.7),(470,55.8),(474,54.5),(478,53.3),
(482,53.9),(486,55.1),(490,53.2),(494,54.6),(498,53.5),(502,54.9),(506,53.0),(510,53.9),(514,53.4),(518,54.4),
(522,52.2),(526,53.9),(530,53.2),(534,54.2),(538,52.9),(542,53.2),(546,52.1),(550,54.2),(554,52.9),(558,51.7),
(562,52.3),(566,53.5),(570,51.6),(574,53.0),(578,51.9),(582,53.3),(586,51.4),(590,52.3),(594,51.8),(598,52.8),
(602,50.5),(606,52.2),(610,51.5),(614,52.5),(618,51.2),(622,51.4),(626,50.3),(630,52.4),(634,51.1),(638,49.9),
(642,50.4),(646,51.6),(650,49.7),(654,51.1),(658,50.0),(662,51.3),(666,49.4),(670,50.3),(674,49.8),(678,50.8),
(682,48.4),(686,50.1),(690,49.4),(694,50.4),(698,49.1)]
R3C2_BLACK = [(368,48.8),(378,52.1),(386,53.0),(392,50.0),
(400,54.1),(403,50.2),(406,53.0),(409,51.7),(412,55.4),(415,49.4),(417,52.4),
(420,53.2),(423,50.6),(426,54.2),(429,51.7),(432,49.4),(435,52.8),(437,48.2),
(440,53.5),(443,49.7),(446,54.7),(449,50.5),(452,51.6),(455,48.1),(457,52.4),
(460,52.3),(463,50.5),(466,53.5),(469,48.9),(472,51.4),(475,48.1),(477,49.7),
(480,52.3),(483,48.4),(486,51.2),(489,49.9),(492,53.6),(495,47.6),(497,50.6),
(500,51.5),(503,48.9),(506,52.5),(509,50.0),(512,47.7),(515,51.1),(517,46.5),
(520,51.9),(523,48.1),(526,53.1),(529,48.9),(532,50.0),(535,46.5),(537,50.8),
(540,50.9),(543,49.1),(546,52.1),(549,47.5),(552,50.0),(555,46.7),(557,48.3),
(560,50.8),(563,46.9),(566,49.7),(569,48.4),(572,52.1),(575,46.1),(577,49.1),
(580,50.0),(583,47.4),(586,51.0),(589,48.5),(592,46.2),(595,49.6),(597,45.0),
(600,50.3),(603,46.5),(606,51.5),(609,47.3),(612,48.4),(615,44.9),(617,49.2),
(620,49.2),(623,47.4),(626,50.4),(629,45.8),(632,48.3),(635,45.0),(637,46.6),
(640,49.0),(643,45.1),(646,47.9),(649,46.6),(652,50.3),(655,44.3),(657,47.3),
(660,48.2),(663,45.6),(666,49.2),(669,46.7),(672,44.4),(675,47.8),(677,43.2),
(680,48.5),(683,44.7),(686,49.7),(689,45.5),(692,46.6),(695,43.1),(697,47.4),
(409,47.7),(420,43.7),(430,36.2),(467,57.0),(467,41.6),(467,39.7),(479,45.7),(506,46.0),(507,44.7),(515,56.2),
(524,45.2),(544,39.3),(568,41.9),(571,40.5),(597,43.4),(598,38.0),(613,52.9),(653,39.3),(653,42.6),(675,43.8),
(700,45.2),(711,43.2),(715,45.6),(726,44.2),(753,46.7),(769,44.1)]
R3C2_BLACK2 = [(401,51.8),(405,54.3),(408,49.8),(413,53.5),(416,50.8),(421,52.3),(425,48.7),(428,53.4),(433,50.8),(436,54.6),
(441,49.4),(445,52.3),(448,51.1),(453,53.8),(456,48.6),(461,51.7),(465,49.4),(468,54.0),(473,48.5),(476,51.0),
(481,50.0),(485,52.5),(488,48.0),(493,51.7),(496,49.0),(501,50.6),(505,47.0),(508,51.7),(513,49.1),(516,52.9),
(521,47.8),(525,50.7),(528,49.5),(533,52.2),(536,47.0),(541,50.3),(545,48.0),(548,52.6),(553,47.1),(556,49.6),
(561,48.5),(565,51.0),(568,46.5),(573,50.2),(576,47.5),(581,49.1),(585,45.5),(588,50.2),(593,47.6),(596,51.4),
(601,46.2),(605,49.1),(608,47.9),(613,50.6),(616,45.4),(621,48.6),(625,46.3),(628,50.9),(633,45.4),(636,47.9),
(641,46.7),(645,49.2),(648,44.7),(653,48.4),(656,45.7),(661,47.3),(665,43.7),(668,48.4),(673,45.8),(676,49.6),
(681,44.4),(685,47.3),(688,46.1),(693,48.8),(696,43.6)]

R3C3_BLUE = [(277,58.5),(338,57.2),(340,56.6),(358,56.5),(369,56.3),(380,56.0),(390,55.9),(396,55.8),
(400,56.3),(404,54.8),(408,55.6),(412,54.1),(416,56.4),(420,54.7),(424,55.5),(428,54.0),(432,56.0),(436,53.4),
(440,54.8),(444,54.1),(448,55.7),(452,53.5),(456,54.5),(460,54.8),(464,52.8),(468,54.5),(472,53.3),(476,55.3),
(480,54.5),(484,53.0),(488,53.8),(492,52.3),(496,55.0),(500,53.0),(504,53.8),(508,52.3),(512,54.3),(516,51.7),
(520,53.1),(524,52.4),(528,54.0),(532,51.8),(536,52.8),(540,53.1),(544,51.1),(548,52.8),(552,51.6),(556,53.6),
(560,52.8),(564,51.3),(568,52.1),(572,50.6),(576,53.3),(580,51.2),(584,52.0),(588,50.5),(592,52.5),(596,49.9),
(600,51.3),(604,50.6),(608,52.2),(612,50.0),(616,51.0),(620,51.3),(624,49.3),(628,51.0),(632,49.8),(636,51.8),
(640,51.0),(644,49.5),(648,50.3),(652,48.8),(656,51.5),(660,49.3),(664,50.1),(668,48.6),(672,50.6),(676,48.0),
(680,49.2),(684,48.5),(688,50.1),(692,47.9),(696,48.9),(700,48.0),(710,46.7),(711,48.4),(743,47.1),(748,47.2),
(577,41.9),(601,40.3),(641,43.2),(651,43.6)]
R3C3_BLUE2 = [(402,54.7),(406,56.0),(410,53.9),(414,55.4),(418,54.2),(422,55.7),(426,53.6),(430,54.6),(434,54.1),(438,55.2),
(442,52.8),(446,54.6),(450,53.9),(454,55.0),(458,53.5),(462,53.8),(466,52.6),(470,54.9),(474,53.5),(478,52.2),
(482,52.9),(486,54.2),(490,52.1),(494,53.6),(498,52.4),(502,54.0),(506,51.9),(510,52.9),(514,52.4),(518,53.5),
(522,51.1),(526,52.9),(530,52.2),(534,53.3),(538,51.8),(542,52.1),(546,50.9),(550,53.2),(554,51.8),(558,50.5),
(562,51.2),(566,52.5),(570,50.4),(574,51.9),(578,50.7),(582,52.2),(586,50.1),(590,51.1),(594,50.6),(598,51.7),
(602,49.3),(606,51.1),(610,50.4),(614,51.5),(618,50.0),(622,50.3),(626,49.1),(630,51.4),(634,50.0),(638,48.7),
(642,49.4),(646,50.7),(650,48.6),(654,50.1),(658,48.9),(662,50.3),(666,48.2),(670,49.2),(674,48.7),(678,49.8),
(682,47.2),(686,49.0),(690,48.3),(694,49.4),(698,47.9)]
R3C3_BLACK = [(277,53.3),(336,54.7),(340,53.5),(358,51.0),(369,52.1),(369,50.8),(380,49.4),(390,52.6),(396,55.8),
(400,54.1),(403,50.2),(406,53.0),(409,51.7),(412,55.4),(415,49.4),(417,52.4),
(420,53.2),(423,50.6),(426,54.2),(429,51.7),(432,49.4),(435,52.8),(437,48.2),
(440,53.6),(443,49.8),(446,54.8),(449,50.6),(452,51.7),(455,48.2),(457,52.5),
(460,52.4),(463,50.6),(466,53.6),(469,49.0),(472,51.5),(475,48.2),(477,49.8),
(480,52.2),(483,48.3),(486,51.1),(489,49.8),(492,53.5),(495,47.5),(497,50.5),
(500,51.4),(503,48.8),(506,52.4),(509,49.9),(512,47.6),(515,51.0),(517,46.4),
(520,51.7),(523,47.9),(526,52.9),(529,48.7),(532,49.8),(535,46.3),(537,50.6),
(540,50.5),(543,48.7),(546,51.7),(549,47.1),(552,49.6),(555,46.3),(557,47.9),
(560,50.4),(563,46.5),(566,49.3),(569,48.0),(572,51.7),(575,45.7),(577,48.7),
(580,49.4),(583,46.8),(586,50.4),(589,47.9),(592,45.6),(595,49.0),(597,44.4),
(600,49.7),(603,45.9),(606,50.9),(609,46.7),(612,47.8),(615,44.3),(617,48.6),
(620,48.4),(623,46.6),(626,49.6),(629,45.0),(632,47.5),(635,44.2),(637,45.8),
(640,48.2),(643,44.3),(646,47.1),(649,45.8),(652,49.5),(655,43.5),(657,46.5),
(660,47.2),(663,44.6),(666,48.2),(669,45.7),(672,43.4),(675,46.8),(677,42.2),
(680,47.5),(683,43.7),(686,48.7),(689,44.5),(692,45.6),(695,42.1),(697,46.4),
(424,43.8),(457,44.7),(480,46.3),(491,45.6),(516,44.7),(522,40.4),(553,53.9),(566,41.1),(586,41.6),(617,52.1),
(628,42.2),(664,42.2),(692,47.1),(700,44.4),(705,39.9),(706,45.6),(711,43.0),(743,44.7),(748,42.6)]
R3C3_BLACK2 = [(401,51.8),(405,54.3),(408,49.8),(413,53.5),(416,50.8),(421,52.3),(425,48.7),(428,53.4),(433,50.8),(436,54.6),
(441,49.5),(445,52.4),(448,51.2),(453,53.9),(456,48.7),(461,51.8),(465,49.5),(468,54.1),(473,48.6),(476,51.1),
(481,49.9),(485,52.4),(488,47.9),(493,51.6),(496,48.9),(501,50.5),(505,46.9),(508,51.6),(513,49.0),(516,52.8),
(521,47.6),(525,50.5),(528,49.3),(533,52.0),(536,46.8),(541,49.9),(545,47.6),(548,52.2),(553,46.7),(556,49.2),
(561,48.1),(565,50.6),(568,46.1),(573,49.8),(576,47.1),(581,48.5),(585,44.9),(588,49.6),(593,47.0),(596,50.8),
(601,45.6),(605,48.5),(608,47.3),(613,50.0),(616,44.8),(621,47.8),(625,45.5),(628,50.1),(633,44.6),(636,47.1),
(641,45.9),(645,48.4),(648,43.9),(653,47.6),(656,44.9),(661,46.3),(665,42.7),(668,47.4),(673,44.8),(676,48.6),
(681,43.4),(685,46.3),(688,45.1),(693,47.8),(696,42.6)]

PANELS = {
    ("1/3", "1/3"): (R1C1_BLACK + R1C1_BLACK2, R1C1_BLUE + R1C1_BLUE2),
    ("1/3", "2/3"): (R1C2_BLACK + R1C2_BLACK2, R1C2_BLUE + R1C2_BLUE2),
    ("1/3", "3/3"): (R1C3_BLACK + R1C3_BLACK2, R1C3_BLUE + R1C3_BLUE2),
    ("2/3", "1/3"): (R2C1_BLACK + R2C1_BLACK2, R2C1_BLUE + R2C1_BLUE2),
    ("2/3", "2/3"): (R2C2_BLACK + R2C2_BLACK2, R2C2_BLUE + R2C2_BLUE2),
    ("2/3", "3/3"): (R2C3_BLACK + R2C3_BLACK2, R2C3_BLUE + R2C3_BLUE2),
    ("3/3", "1/3"): (R3C1_BLACK + R3C1_BLACK2, R3C1_BLUE + R3C1_BLUE2),
    ("3/3", "2/3"): (R3C2_BLACK + R3C2_BLACK2, R3C2_BLUE + R3C2_BLUE2),
    ("3/3", "3/3"): (R3C3_BLACK + R3C3_BLACK2, R3C3_BLUE + R3C3_BLUE2),
}

rows = []
for (c, wc), (blk, blu) in PANELS.items():
    for x, y in blk:
        rows.append({"c": c, "wc": wc, "kind": "black", "x": x, "y": y})
    for x, y in blu:
        rows.append({"c": c, "wc": wc, "kind": "blue", "x": x, "y": y})
for c in LEVELS:
    for wc in LEVELS:
        rows.append({"c": c, "wc": wc, "kind": "cell", "x": None, "y": None})
df = pd.DataFrame(rows)

W, H = 258, 108
FONT = "Liberation Sans"

x_enc = alt.X("x:Q", scale=alt.Scale(domain=[253, 816], nice=False, zero=False),
              axis=alt.Axis(values=X_TICKS, title=None, domain=False, ticks=False, tickSize=0,
                            labelExpr="datum.value % 100 === 0 ? datum.label : ''",
                            labelOverlap=False, labelFlush=False,
                            labelFontSize=14.5, labelColor="#4D4D4D", labelPadding=2, labelFont=FONT,
                            gridColor="#EBEBEB",
                            gridWidth={"condition": {"test": "datum.value % 100 === 0", "value": 1.2}, "value": 0.6}))
y_enc = alt.Y("y:Q", scale=alt.Scale(domain=[34.7, 61.4], nice=False, zero=False),
              axis=alt.Axis(values=Y_TICKS, title=None, domain=False, ticks=False, tickSize=0,
                            labelExpr="datum.value % 5 === 0 ? datum.label : ''",
                            labelOverlap=False, labelFlush=False,
                            labelFontSize=13, labelColor="#4D4D4D", labelPadding=7, labelFont=FONT,
                            gridColor="#EBEBEB",
                            gridWidth={"condition": {"test": "datum.value % 5 === 0", "value": 1.2}, "value": 0.6}))

black = alt.Chart().mark_circle(color="#000000", opacity=0.5, size=36).encode(
    x=x_enc, y=y_enc).transform_filter("datum.kind === 'black'")
blue = alt.Chart().mark_circle(color="#0000FF", opacity=0.75, size=12).encode(
    x=x_enc, y=y_enc).transform_filter("datum.kind === 'blue'")


def txt(filt, text, x, y, size, align="left", baseline="alphabetic", angle=0, color="#1A1A1A"):
    m = alt.Chart().mark_text(font=FONT, fontSize=size, align=align, baseline=baseline,
                              angle=angle, color=color)
    return m.encode(x=alt.value(x), y=alt.value(y), text=text).transform_filter(filt)


top = "datum.kind === 'cell' && datum.c === '1/3'"
right = "datum.kind === 'cell' && datum.wc === '3/3'"

col_mu = txt(top, alt.value("μ"), 103, -10, 14)
col_sub = txt(top, alt.value("WC"), 111, -8.5, 10)
col_rest = txt(top, alt.Text("lbl:N"), 128, -10, 14).transform_calculate(lbl="': ' + datum.wc")
row_mu = txt(right, alt.value("μ"), 264, 61, 14)
row_sub = txt(right, alt.value("C"), 272, 62.5, 10)
row_rest = txt(right, alt.Text("lbl:N"), 279, 61, 14).transform_calculate(lbl="': ' + datum.c")
y_title = txt("datum.kind === 'cell' && datum.c === '2/3' && datum.wc === '1/3'",
              alt.value(Y_TITLE), -38, 54, 19, align="center", baseline="middle", angle=270, color="#000000")
x_title = txt("datum.kind === 'cell' && datum.c === '3/3' && datum.wc === '2/3'",
              alt.value(X_TITLE), 130, 144, 19, align="center", color="#000000")

layered = alt.layer(black, blue, col_mu, col_sub, col_rest, row_mu, row_sub, row_rest,
                    y_title, x_title, data=df).properties(width=W, height=H)

chart = layered.facet(
    row=alt.Row("c:N", sort=LEVELS, header=alt.Header(labels=False, title=None)),
    column=alt.Column("wc:N", sort=LEVELS, header=alt.Header(labels=False, title=None)),
    spacing={"row": 7, "column": 6},
).properties(
    bounds="flush",
    padding={"left": 0, "top": 0, "right": 0, "bottom": 0},
).configure_view(stroke=None).configure(font=FONT)

chart.save("out.html", embed_options={"renderer": "svg", "actions": False})
